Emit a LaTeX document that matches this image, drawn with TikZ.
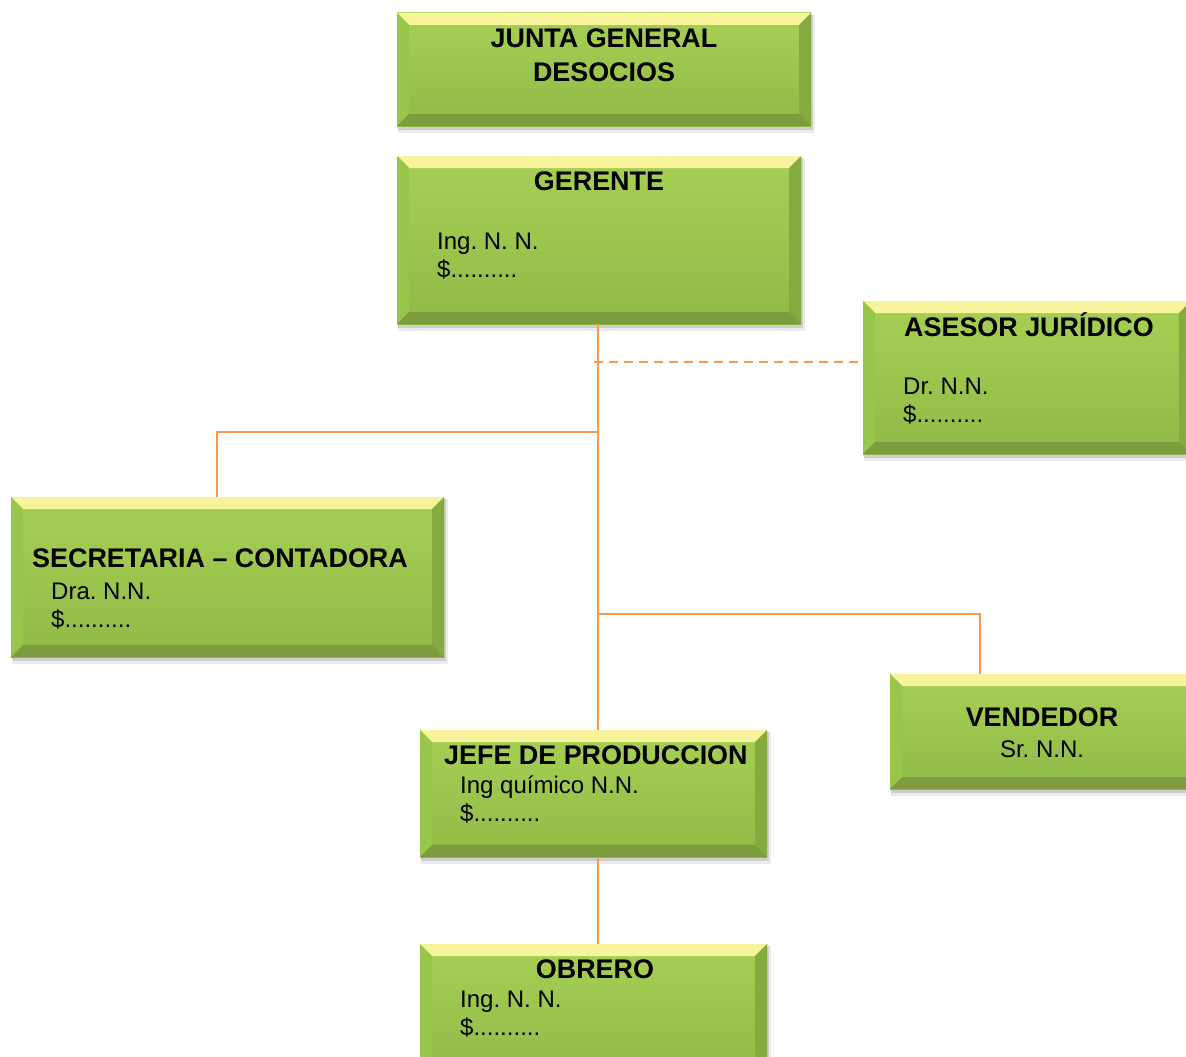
\documentclass[tikz,border=0pt]{standalone}
\usepackage{fontspec}
\setmainfont{Liberation Sans}
\usetikzlibrary{fit}

\definecolor{facetop}{HTML}{A6D054}
\definecolor{facebot}{HTML}{90BA46}
\definecolor{bevtop}{HTML}{F8F49C}
\definecolor{bevleft}{HTML}{98C64A}
\definecolor{bevright}{HTML}{84AA40}
\definecolor{bevbot}{HTML}{7C9C3E}
\definecolor{linkorange}{HTML}{F79A4E}

\tikzset{
  conn/.style={draw=linkorange, line width=1.8pt},
  head/.style={inner sep=0pt, font=\fontsize{26.9}{34}\selectfont\bfseries},
  body/.style={inner sep=0pt, font=\fontsize{24}{28}\selectfont},
}

% Bevelled green box: name, x1, y1, x2, y2 (y grows downward)
\newcommand{\bevbox}[5]{%
  \fill[black, opacity=0.08] (#2+1,#3+2) rectangle (#4+4,#5+7);
  \fill[black, opacity=0.12] (#2+1,#3+2) rectangle (#4+2,#5+4);
  \shade[top color=facetop, bottom color=facebot] (#2,#3) rectangle (#4,#5);
  \fill[bevtop]   (#2,#3) -- (#4,#3) -- (#4-12,#3+12) -- (#2+12,#3+12) -- cycle;
  \fill[bevleft]  (#2,#3) -- (#2+12,#3+12) -- (#2+12,#5-12) -- (#2,#5) -- cycle;
  \fill[bevright] (#4,#3) -- (#4-12,#3+12) -- (#4-12,#5-12) -- (#4,#5) -- cycle;
  \fill[bevbot]   (#2,#5) -- (#2+12,#5-12) -- (#4-12,#5-12) -- (#4,#5) -- cycle;
  \node[inner sep=0pt, fit={(#2,#3) (#4,#5)}] (#1) {};
}

\begin{document}
\frenchspacing
\begin{tikzpicture}[x=1pt, y=-1pt]
  \useasboundingbox (0,0) rectangle (1186,1057);
  \clip (0,0) rectangle (1186,1057);
  \fill[white] (0,0) rectangle (1186,1057);

  % connector junctions
  \coordinate (jd) at (594,362);
  \coordinate (j1) at (598,432);
  \coordinate (j2) at (598,614);
  \coordinate (k1) at (217,432);
  \coordinate (k2) at (980,614);

  % boxes
  \bevbox{junta}{397}{13}{811}{126}
  \bevbox{ger}{397}{156}{801}{324}
  \bevbox{ase}{863}{301}{1191}{454}
  \bevbox{sec}{11}{497}{444}{657}
  \bevbox{jefe}{420}{730}{767}{857}
  \bevbox{ven}{890}{674}{1200}{789}
  \bevbox{obr}{420}{944}{767}{1075}

  % connectors
  \draw[conn] (ger.south -| j1) -- (jefe.north -| j1);
  \draw[conn, dash pattern=on 9pt off 6pt] (jd) -- (ase.west |- jd);
  \draw[conn] (j1) -- (k1) -- (sec.north -| k1);
  \draw[conn] (j2) -- (k2) -- (ven.north -| k2);
  \draw[conn] (jefe.south -| j1) -- (obr.north -| j1);

  % texts
  \node[head, anchor=base] (t1a) at (604,47.5) {JUNTA GENERAL};
  \node[head, anchor=base] (t1b) at (604,81.5) {DESOCIOS};

  \node[head, anchor=base] (t2a) at (599,190.5) {GERENTE};
  \node[body, anchor=base west] (t2b) at (437,249.6) {Ing. N. N.};
  \node[body, anchor=base west] (t2c) at (437,277.6) {\$..........};

  \node[head, anchor=base] (t3a) at (1029,336.5) {ASESOR JURÍDICO};
  \node[body, anchor=base west] (t3b) at (903,394.6) {Dr. N.N.};
  \node[body, anchor=base west] (t3c) at (903,422.6) {\$..........};

  \node[head, anchor=base west] (t4a) at (32,567.5) {SECRETARIA – CONTADORA};
  \node[body, anchor=base west] (t4b) at (51,599.6) {Dra. N.N.};
  \node[body, anchor=base west] (t4c) at (51,627.6) {\$..........};

  \node[head, anchor=base west] (t5a) at (444,764.5) {JEFE DE PRODUCCION};
  \node[body, anchor=base west] (t5b) at (460,793.6) {Ing químico N.N.};
  \node[body, anchor=base west] (t5c) at (460,821.6) {\$..........};

  \node[head, anchor=base] (t6a) at (1042,726.5) {VENDEDOR};
  \node[body, anchor=base] (t6b) at (1042,757.6) {Sr. N.N.};

  \node[head, anchor=base] (t7a) at (595,978.5) {OBRERO};
  \node[body, anchor=base west] (t7b) at (460,1007.6) {Ing. N. N.};
  \node[body, anchor=base west] (t7c) at (460,1035.6) {\$..........};
\end{tikzpicture}
\end{document}
